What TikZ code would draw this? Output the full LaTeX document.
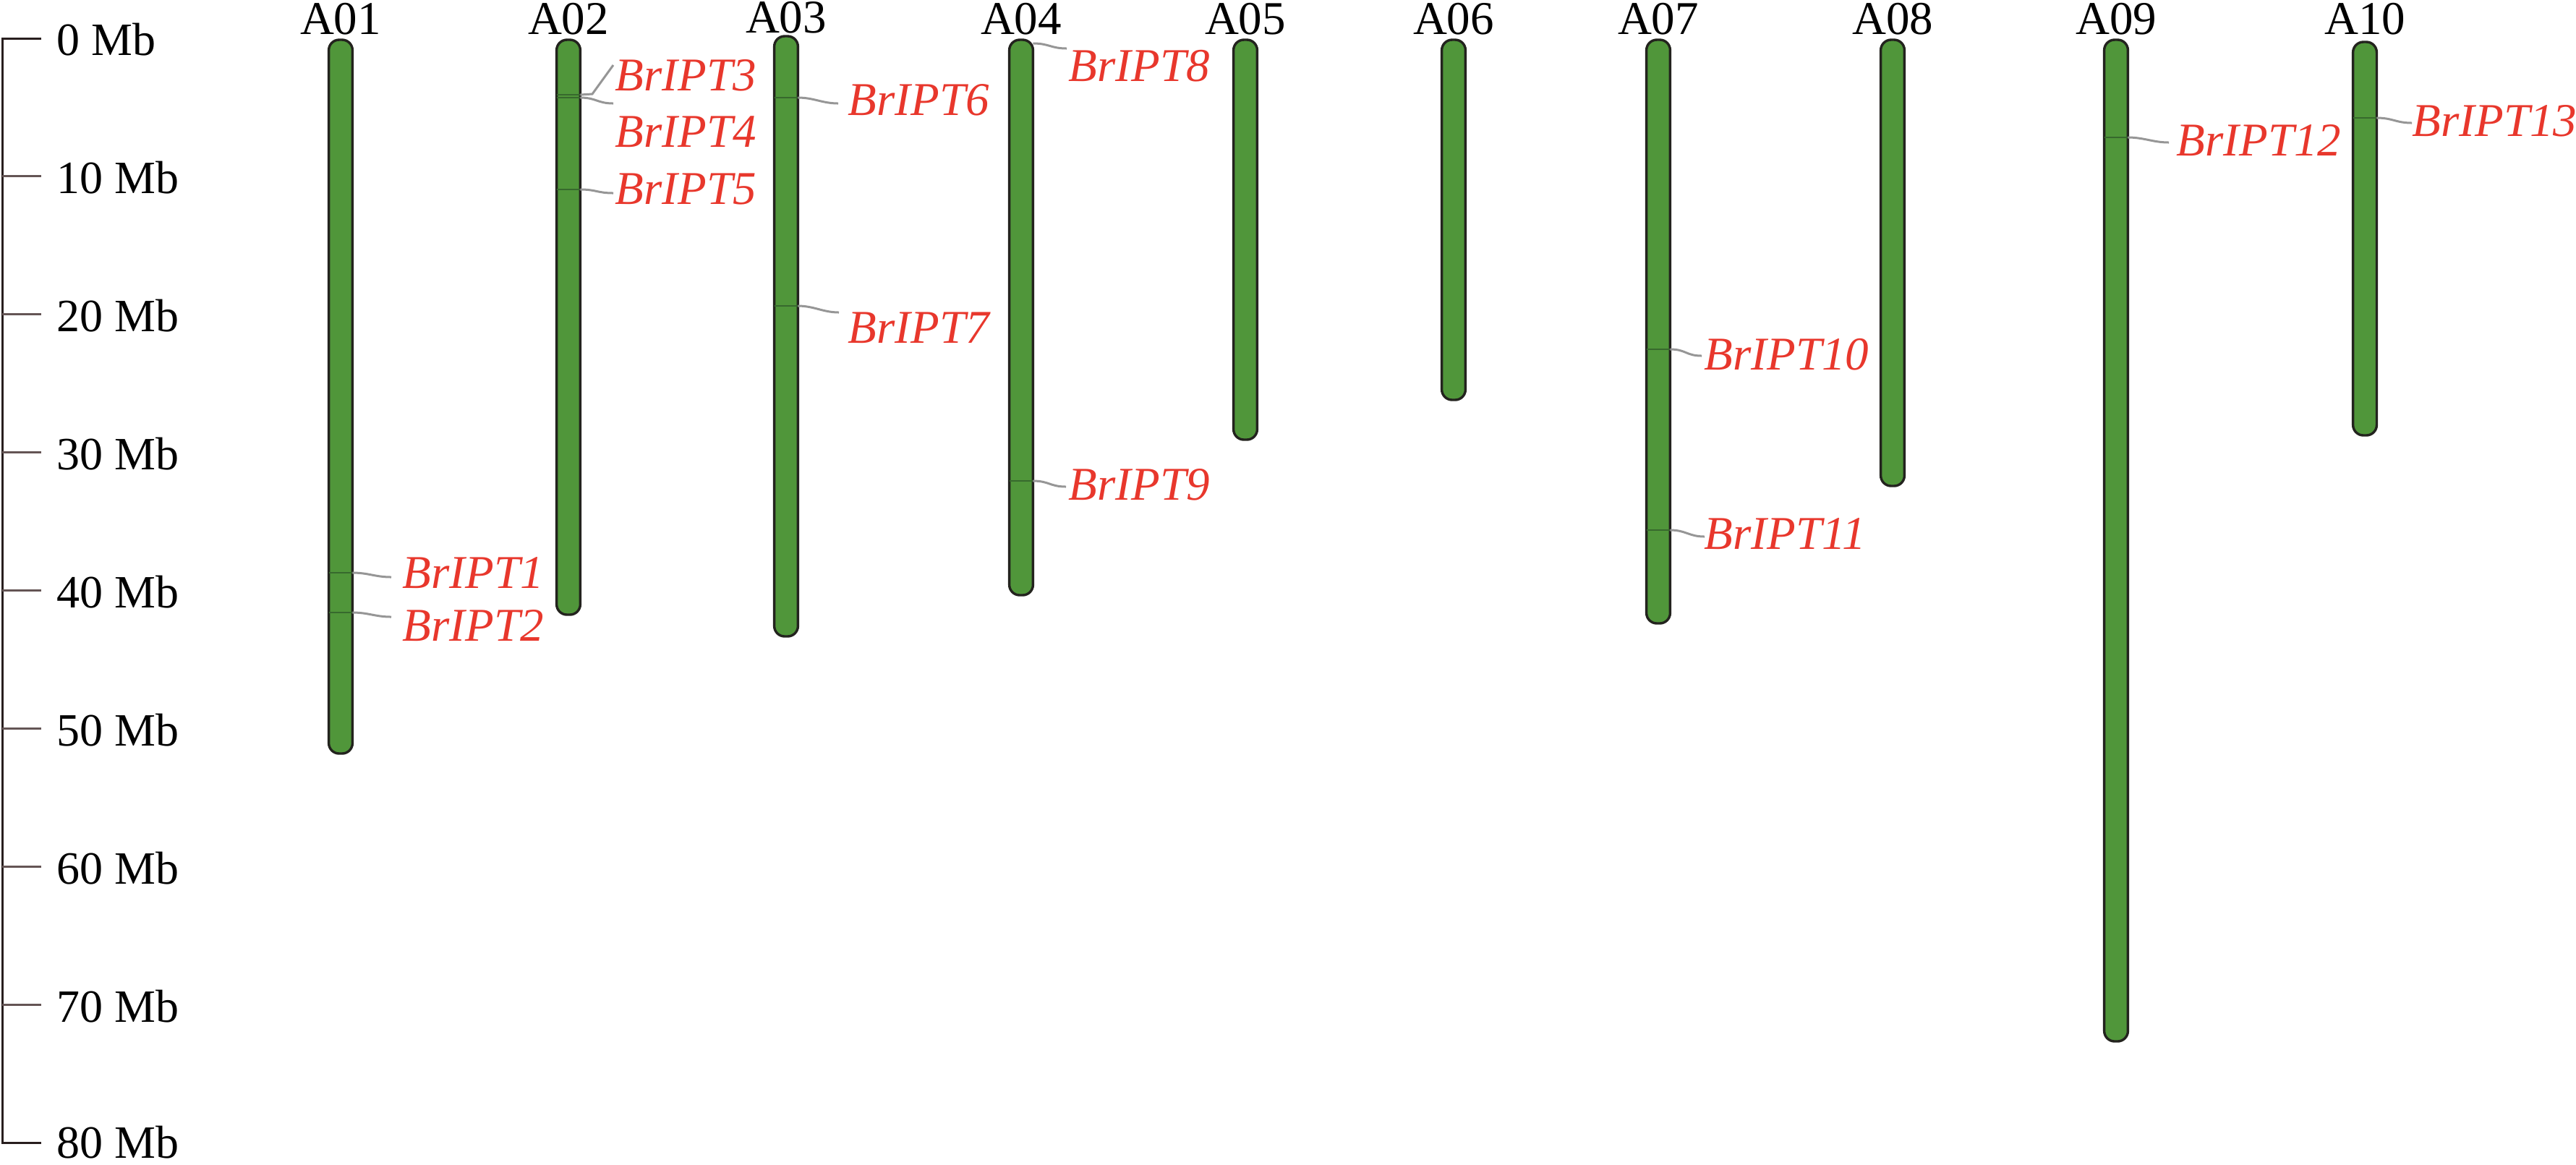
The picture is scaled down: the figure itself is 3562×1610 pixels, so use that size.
\documentclass[tikz,border=0pt]{standalone}
\usepackage{fontspec}
\setmainfont{Liberation Serif}
\definecolor{chromfill}{RGB}{80,150,58}
\definecolor{chromedge}{RGB}{35,35,30}
\definecolor{genered}{RGB}{232,55,44}
\definecolor{connc}{RGB}{150,150,150}
\definecolor{axisc}{RGB}{40,30,30}
\definecolor{tickc}{RGB}{100,85,85}
\definecolor{markc}{RGB}{55,105,45}
\begin{document}
\begin{tikzpicture}[x=0.25pt,y=-0.25pt,
  chrom/.style={draw=chromedge, line width=0.85pt, fill=chromfill, rounded corners=3.6pt,
                minimum width=8.2pt, inner sep=0pt, outer sep=0pt},
  chrlab/.style={font=\fontsize{16.25pt}{18pt}\selectfont, inner sep=0pt},
  scalelab/.style={font=\fontsize{16pt}{18pt}\selectfont, inner sep=0pt, anchor=west},
  gene/.style={font=\fontsize{16.25pt}{18pt}\selectfont\itshape, text=genered, inner sep=0pt, anchor=west},
  conn/.style={draw=connc, line width=0.75pt},
  markline/.style={draw=markc, line width=0.5pt},
  axisline/.style={draw=axisc, line width=0.75pt},
  tickline/.style={draw=tickc, line width=0.75pt}]
\useasboundingbox (0,0) rectangle (3562,1610);

% scale axis
\draw[axisline] (57,53) -- (3,53) -- (3,1580) -- (57,1580);
\foreach \i/\t in {0/0 Mb,1/10 Mb,2/20 Mb,3/30 Mb,4/40 Mb,5/50 Mb,6/60 Mb,7/70 Mb}{
  \ifnum\i>0
    \draw[tickline] (3,{53+190.875*\i}) -- (57,{53+190.875*\i});
  \fi
  \node[scalelab] (s\i) at (78,{55+190.875*\i}) {\t};
}
\node[scalelab] (s8) at (78,1580) {80 Mb};

% chromosomes
\foreach \n/\x/\t/\b/\ly in {A01/471/55/1042/47, A02/786/55/850/47, A03/1087/50/880/45,
  A04/1412/55/823/47, A05/1722/55/608/47, A06/2010/55/553/47, A07/2293/55/862/47,
  A08/2617/55/672/47, A09/2926/55/1440/47, A10/3270/58/602/47}{
  \node[chrom, minimum height={(\b-\t)*0.25pt}, anchor=north] (\n) at (\x,\t) {};
  \node[chrlab, anchor=base] (l\n) at (\x,\ly) {\n};
}

% gene markers, connectors and labels
\foreach \k/\c/\my/\ex/\ey/\tx/\ty in {
  1/A01/792/541/798/556/792,
  2/A01/847/541/853/556/865,
  4/A02/135/848/143/850/182,
  5/A02/262/848/267/850/262,
  6/A03/135/1159/143/1172/138,
  7/A03/423/1160/432/1172/453,
  8/A04/60/1475/67/1477/91,
  9/A04/665/1474/673/1477/670,
  10/A07/483/2353/492/2356/490,
  11/A07/733/2357/742/2356/738,
  12/A09/190/2999/197/3009/194,
  13/A10/163/3335/170/3335/167}{
  \coordinate (m\k) at (\c.east |- 0,\my);
  \coordinate (e\k) at (\ex,\ey);
  \ifnum\k=8\else
    \draw[markline] (\c.west |- 0,\my) -- (m\k);
  \fi
  \draw[conn] (m\k) .. controls +(22,0) and +(-22,0) .. (e\k);
  \node[gene] (g\k) at (\tx,\ty) {BrIPT\k};
}
% BrIPT3 (angled connector)
\coordinate (m3) at (A02.east |- 0,131);
\coordinate (b3) at (819,130);
\coordinate (e3) at (848,90);
\draw[markline] (A02.west |- 0,131) -- (m3);
\draw[conn] (m3) -- (b3) -- (e3);
\node[gene] (g3) at (850,104) {BrIPT3};
\end{tikzpicture}
\end{document}
